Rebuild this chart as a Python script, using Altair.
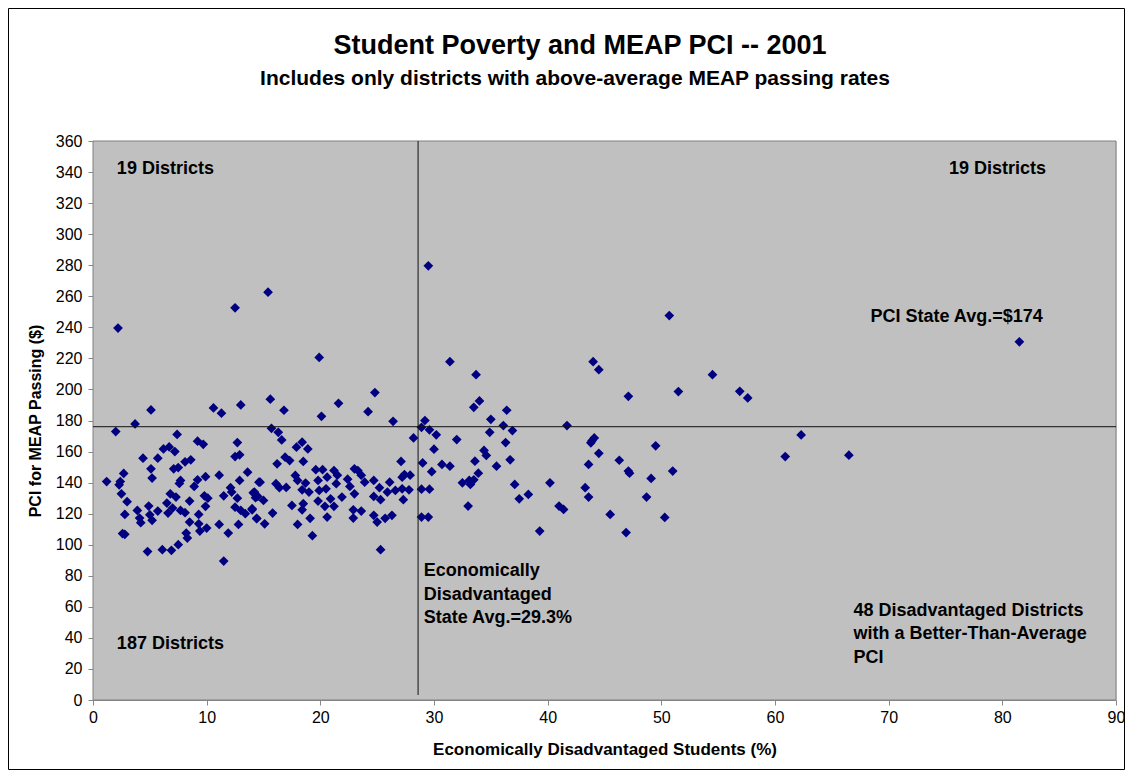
import altair as alt
import pandas as pd

# ---- data ----
disadv_pct = [
    5.1, 10.6, 11.3, 13.0, 3.7, 2.0, 7.4, 9.2, 9.7, 12.7, 6.2, 6.7, 7.2, 4.4, 5.7, 12.5, 12.9,
    5.1, 5.2, 7.1, 7.5, 8.1, 8.6, 2.7, 1.2, 2.4, 2.3, 7.7, 7.6, 8.9, 9.2, 9.9, 11.1, 12.9, 13.6,
    14.6, 2.5, 3.0, 6.8, 7.3, 8.5, 9.8, 10.1, 9.9, 11.5, 12.1, 12.2, 12.7, 12.5, 13.0, 13.4, 12.8,
    14.1, 14.3, 14.0, 14.4, 2.8, 3.9, 4.1, 4.2, 4.9, 5.0, 5.2, 5.7, 6.5, 6.6, 7.0, 7.7, 8.1, 9.3,
    8.5, 9.3, 9.4, 10.0, 11.1, 11.9, 2.8, 2.6, 8.2, 8.3, 7.5, 4.8, 6.1, 6.9, 11.5,
    15.6, 16.8, 20.1, 21.6, 24.8, 24.2, 26.4, 15.7, 16.3, 16.6, 17.9, 18.4, 18.9, 16.9, 17.3, 16.2,
    18.5, 14.7, 14.2, 14.5, 15.0, 14.0, 14.4, 15.1, 15.8, 16.1, 16.4, 17.0, 17.5, 17.8, 18.0, 18.4,
    18.7, 19.0, 18.5, 18.4, 18.0, 19.1, 19.3, 19.6, 19.8, 20.2, 20.6, 19.9, 20.5, 20.9, 19.8, 20.4,
    21.2, 20.6, 21.2, 21.5, 21.4, 21.9, 22.4, 22.6, 23.0, 23.0, 23.3, 23.6, 23.9, 22.9, 23.6, 22.9,
    24.7, 24.7, 25.2, 25.3, 24.7, 25.0, 25.7, 26.3, 25.9, 26.6, 26.1, 27.2, 27.4, 27.9, 27.1, 27.2,
    27.8, 27.3, 28.2, 25.3,
    2.2, 12.5, 15.4, 19.9,
    29.5, 31.4, 33.7, 44.0, 44.5, 33.5, 34.0, 36.4, 35.0, 36.1, 36.9, 34.9, 41.7, 29.2, 28.9, 29.6,
    30.2, 32.0, 36.3, 30.0, 34.4, 34.6, 33.6, 29.0, 30.7, 31.4, 29.8, 36.7, 35.5, 33.9, 33.5, 33.1,
    32.5, 33.2, 37.1, 37.5, 38.3, 40.2, 28.9, 29.6, 33.0, 41.0, 41.4, 39.3, 28.9, 29.5, 43.3, 43.6,
    43.6, 44.5, 43.8, 44.1, 43.9, 45.5,
    50.7, 47.1, 51.5, 54.5, 56.9, 57.6, 62.3, 60.9, 66.5, 49.5, 46.3, 47.1, 47.2, 51.0, 49.1, 48.7,
    50.3, 46.9, 81.5,
]
pci = [
    186.8, 188.1, 184.7, 190.0, 177.8, 172.9, 171.0, 166.7, 164.7, 165.8, 161.7, 163.0, 160.0, 155.7,
    155.7, 156.8, 157.9, 148.9, 142.9, 148.9, 149.7, 153.4, 154.7, 145.9, 140.7, 140.7, 138.6, 141.4,
    139.5, 137.5, 141.8, 143.8, 144.8, 141.4, 146.7, 140.3, 132.8, 127.7, 132.8, 130.7, 128.1, 131.5,
    130.0, 124.7, 131.5, 136.7, 133.9, 130.0, 124.2, 122.1, 120.0, 113.1, 133.4, 130.3, 122.5, 117.0,
    119.5, 122.1, 117.2, 114.2, 124.9, 119.3, 115.7, 121.7, 126.8, 120.4, 123.6, 122.1, 120.6, 119.5,
    114.6, 113.5, 108.8, 110.7, 113.1, 107.5, 106.7, 107.2, 107.5, 104.3, 100.0, 95.6, 96.8, 96.4, 89.5,
    193.7, 186.6, 182.7, 191.1, 198.0, 185.7, 179.5, 175.0, 172.4, 167.5, 162.8, 166.0, 161.7, 156.4,
    154.2, 152.1, 153.6, 140.3, 133.9, 131.1, 128.5, 123.2, 116.8, 113.5, 120.4, 139.3, 136.7, 136.9,
    125.3, 144.6, 141.4, 135.4, 139.7, 133.9, 126.4, 122.5, 113.1, 117.0, 105.8, 148.3, 141.4, 148.3,
    143.5, 135.0, 136.0, 129.6, 128.1, 124.7, 124.7, 117.8, 147.8, 144.8, 139.3, 130.7, 142.2, 137.5,
    132.8, 148.9, 147.8, 144.8, 140.3, 122.5, 121.7, 117.2, 141.4, 131.1, 136.7, 129.0, 118.9, 114.6,
    117.0, 118.9, 133.9, 135.0, 140.3, 143.5, 145.2, 144.8, 153.6, 136.0, 135.4, 129.0, 168.8, 96.8,
    239.5, 252.6, 262.6, 220.6,
    279.6, 217.9, 209.5, 217.9, 212.7, 188.5, 192.6, 186.6, 180.8, 176.7, 173.5, 172.4, 176.7, 180.0,
    175.6, 174.0, 170.8, 167.7, 165.8, 161.5, 160.7, 157.5, 153.8, 152.7, 151.7, 150.6, 147.0, 154.7,
    150.6, 146.1, 141.8, 141.4, 139.9, 138.8, 138.8, 129.6, 132.4, 139.9, 135.8, 135.8, 124.9, 124.9,
    122.7, 108.8, 117.8, 117.8, 136.7, 130.7, 151.7, 158.9, 165.6, 168.8, 167.0, 119.5,
    247.6, 195.6, 198.6, 209.5, 198.8, 194.5, 170.7, 156.8, 157.7, 163.7, 154.4, 147.4, 146.1, 147.4,
    142.7, 130.7, 117.6, 107.8, 230.7,
]

x_ticks = list(range(0, 91, 10))
y_ticks = list(range(0, 361, 20))

pci_state_avg_line = 176
disadv_state_avg_line = 28.6
vline_bottom = 3.2

title_text = "Student Poverty and MEAP PCI -- 2001"
subtitle_text = "Includes only districts with above-average MEAP passing rates"

note_text = ["19 Districts", "19 Districts", "PCI State Avg.=$174",
             "Economically\nDisadvantaged\nState Avg.=29.3%",
             "48 Disadvantaged Districts\nwith a Better-Than-Average\nPCI",
             "187 Districts"]
note_x = [2.1, 75.3, 68.4, 29.1, 66.9, 2.1]
note_y = [342.0, 342.0, 246.6, 83.0, 57.4, 36.0]

FONT = "Liberation Sans"

pts = pd.DataFrame({"x": disadv_pct, "y": pci})
notes = pd.DataFrame({"t": note_text, "x": note_x, "y": note_y})
one = pd.DataFrame({"a": [0]})

W, H = 1023, 559

xscale = alt.Scale(domain=[0, 90], nice=False, zero=True)
yscale = alt.Scale(domain=[0, 360], nice=False, zero=True)

xaxis = alt.Axis(values=x_ticks, title="Economically Disadvantaged Students (%)",
                 labelFontSize=16, titleFontSize=17, labelPadding=4, titlePadding=16,
                 tickSize=5, grid=False, labelOverlap=False, labelFlush=False)
yaxis = alt.Axis(values=y_ticks, title="PCI for MEAP Passing ($)",
                 labelFontSize=16, titleFontSize=16, labelPadding=6, titlePadding=12,
                 tickSize=5, grid=False, labelOverlap=False, labelFlush=False)

plot_bg = alt.Chart(one).mark_rect(fill="#C0C0C0", stroke="#808080", strokeWidth=1).encode(
    x=alt.value(0), x2=alt.value(W), y=alt.value(0), y2=alt.value(H))

hline = alt.Chart(one).mark_rule(color="#111111", strokeWidth=1).encode(
    y=alt.Y(datum=pci_state_avg_line, scale=yscale, axis=yaxis))
vline = alt.Chart(one).mark_rule(color="#111111", strokeWidth=1).encode(
    x=alt.X(datum=disadv_state_avg_line, scale=xscale, axis=xaxis),
    y=alt.Y(datum=vline_bottom, scale=yscale, axis=yaxis), y2=alt.datum(360))

points = alt.Chart(pts).mark_point(shape="diamond", filled=True, size=95,
                                   color="#000080", opacity=1).encode(
    x=alt.X("x:Q", scale=xscale, axis=xaxis),
    y=alt.Y("y:Q", scale=yscale, axis=yaxis),
)

labels = alt.Chart(notes).mark_text(align="left", baseline="middle", fontWeight="bold",
                                    fontSize=18, font=FONT, lineHeight=23.5,
                                    lineBreak="\n", color="black").encode(
    x=alt.X("x:Q", scale=xscale, axis=xaxis), y=alt.Y("y:Q", scale=yscale, axis=yaxis),
    text="t:N")

title_mark = alt.Chart(one).mark_text(align="center", baseline="middle", fontWeight="bold",
                                      fontSize=27, font=FONT, color="black").encode(
    x=alt.value(487), y=alt.value(-95), text=alt.value(title_text))
subtitle_mark = alt.Chart(one).mark_text(align="center", baseline="middle", fontWeight="bold",
                                         fontSize=21, font=FONT, color="black").encode(
    x=alt.value(482), y=alt.value(-62), text=alt.value(subtitle_text))

frame = alt.Chart(one).mark_rect(filled=False, stroke="black", strokeWidth=1).encode(
    x=alt.value(-84.5), x2=alt.value(W + 8.5), y=alt.value(-132.5), y2=alt.value(H + 69.5))

chart = alt.layer(plot_bg, points, hline, vline, labels, title_mark, subtitle_mark,
                  frame).properties(
    width=W, height=H,
    autosize=alt.AutoSizeParams(type="none"),
    padding={"left": 85, "top": 133, "right": 9, "bottom": 70},
).configure_view(fill="#C0C0C0", stroke="#808080", strokeWidth=1).configure_axis(
    labelFont=FONT, titleFont=FONT, titleFontWeight="bold", labelColor="black",
    titleColor="black", domainColor="black", tickColor="black", domainWidth=1,
).configure(background="white")

chart.save("out.html", embed_options={"renderer": "svg", "actions": False})
